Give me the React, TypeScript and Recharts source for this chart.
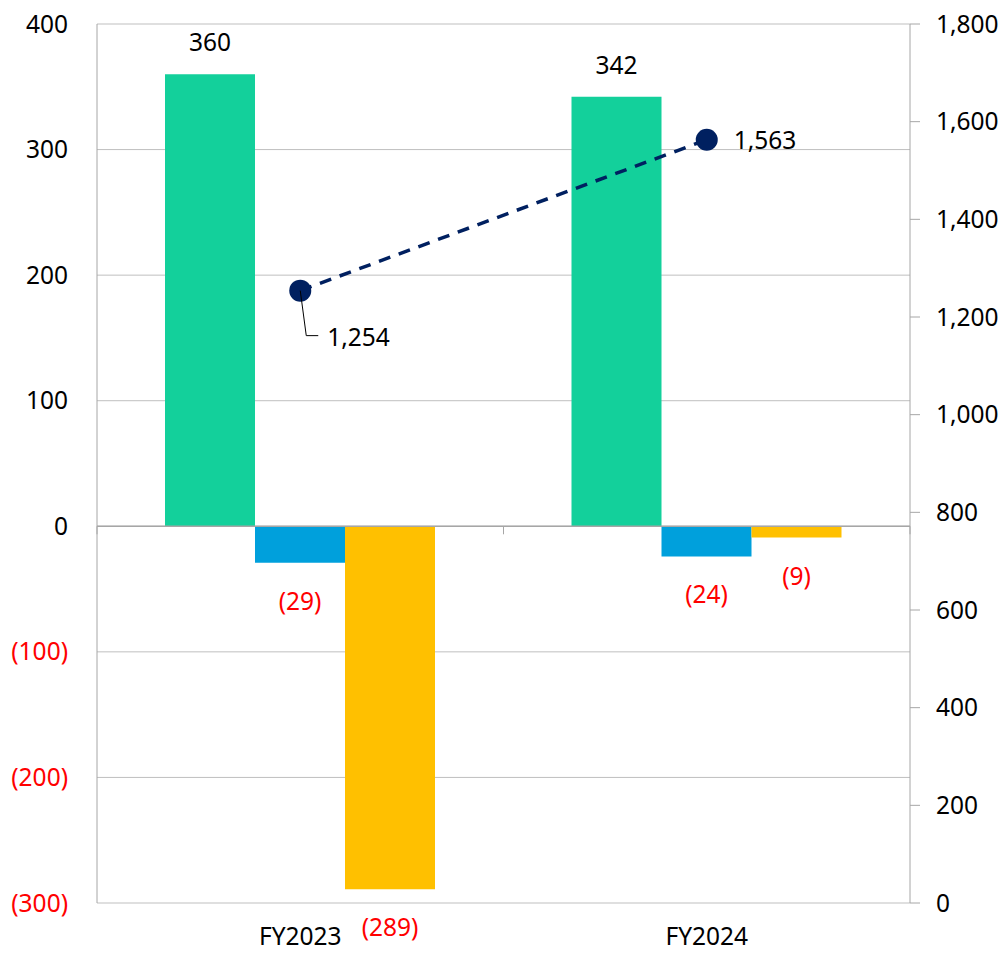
import React from 'react';
import {
  ComposedChart,
  Bar,
  Line,
  XAxis,
  YAxis,
  CartesianGrid,
  ReferenceLine,
  LabelList,
} from 'recharts';

const categories = ['FY2023', 'FY2024'];
const greenValues = [360, 342];
const blueValues = [-29, -24];
const yellowValues = [-289, -9];
const lineValues = [1254, 1563];
const leftTicks = [-300, -200, -100, 0, 100, 200, 300, 400];
const rightTicks = [0, 200, 400, 600, 800, 1000, 1200, 1400, 1600, 1800];

const data = categories.map((name, i) => ({
  name,
  green: greenValues[i],
  blue: blueValues[i],
  yellow: yellowValues[i],
  total: lineValues[i],
}));

const FONT = '"Noto Sans", "Open Sans", sans-serif';
const FS = 24.5;
const GRID = '#bfbfbf';
const AXIS = '#a6a6a6';

const fmtParen = (v: number) => (v < 0 ? `(${Math.abs(v)})` : `${v}`);
const fmtComma = (v: number) => v.toLocaleString('en-US');

const LeftTick = (props: any) => {
  const { x, y, payload } = props;
  const v = payload.value as number;
  return (
    <text x={x} y={y} dy="0.35em" textAnchor="end" fontSize={FS} fontFamily={FONT} fill={v < 0 ? '#ff0000' : '#000'}>
      {fmtParen(v)}
    </text>
  );
};

const RightTick = (props: any) => {
  const { x, y, payload } = props;
  return (
    <text x={x} y={y} dy="0.35em" textAnchor="start" fontSize={FS} fontFamily={FONT} fill="#000">
      {fmtComma(payload.value)}
    </text>
  );
};

const CatTick = (props: any) => {
  const { x, y, payload } = props;
  return (
    <text x={x} y={y} dy="0.35em" textAnchor="middle" fontSize={FS} fontFamily={FONT} fill="#000">
      {payload.value}
    </text>
  );
};

const BarLabel = (props: any) => {
  const { x, y, width, height, value } = props;
  const top = Math.min(y, y + height);
  const bottom = Math.max(y, y + height);
  const cx = x + width / 2;
  if (value >= 0) {
    return (
      <text x={cx} y={top - 23} textAnchor="middle" fontSize={FS} fontFamily={FONT} fill="#000">
        {fmtParen(value)}
      </text>
    );
  }
  return (
    <text x={cx} y={bottom + 47} textAnchor="middle" fontSize={FS} fontFamily={FONT} fill="#ff0000">
      {fmtParen(value)}
    </text>
  );
};

const LineLabel = (props: any) => {
  const { x, y, value, index } = props;
  if (index === 0) {
    // label moved below-right with a leader line
    return (
      <g>
        <polyline points={`${x},${y} ${x + 6},${y + 45} ${x + 18},${y + 45}`} fill="none" stroke="#000" strokeWidth={1} />
        <text x={x + 27} y={y + 47} dy="0.35em" textAnchor="start" fontSize={FS} fontFamily={FONT} fill="#000">
          {fmtComma(value)}
        </text>
      </g>
    );
  }
  return (
    <text x={x + 27} y={y + 1} dy="0.35em" textAnchor="start" fontSize={FS} fontFamily={FONT} fill="#000">
      {fmtComma(value)}
    </text>
  );
};

// small tick marks on the zero line at the category boundaries
const ZeroTicks = (props: any) => {
  const { viewBox } = props;
  if (!viewBox) return null;
  const { x, y, width } = viewBox;
  const xs = [x, x + width / 2, x + width];
  return (
    <g>
      {xs.map((tx, i) => (
        <line key={i} x1={tx} y1={y} x2={tx} y2={y + 8} stroke={AXIS} strokeWidth={1} />
      ))}
    </g>
  );
};

const App: React.FC = () => {
  return (
    <div style={{ position: 'absolute', left: 0, top: 0, width: 1003, height: 953, background: '#fff' }}>
      <ComposedChart
        width={1003}
        height={953}
        data={data}
        margin={{ top: 24, right: 0, bottom: 0, left: 0 }}
        barGap={0}
      >
        <CartesianGrid yAxisId="left" vertical={false} stroke={GRID} strokeWidth={1} />
        <XAxis
          dataKey="name"
          height={50}
          axisLine={false}
          tickLine={false}
          tickMargin={0}
          tickSize={0}
          tick={(p: any) => <CatTick {...p} y={936} />}
        />
        <YAxis
          yAxisId="left"
          orientation="left"
          width={97}
          domain={[-300, 400]}
          ticks={leftTicks}
          interval={0}
          axisLine={{ stroke: AXIS }}
          tickLine={false}
          tick={(p: any) => <LeftTick {...p} x={68} />}
        />
        <YAxis
          yAxisId="right"
          orientation="right"
          width={93}
          domain={[0, 1800]}
          ticks={rightTicks}
          interval={0}
          axisLine={{ stroke: AXIS }}
          tickLine={{ stroke: AXIS }}
          tickSize={10}
          tick={(p: any) => <RightTick {...p} x={936} />}
        />
        <ReferenceLine yAxisId="left" y={0} stroke={AXIS} strokeWidth={1.5} label={<ZeroTicks />} />
        <Bar yAxisId="left" dataKey="green" fill="#13d09b" barSize={90} isAnimationActive={false}>
          <LabelList dataKey="green" content={<BarLabel />} />
        </Bar>
        <Bar yAxisId="left" dataKey="blue" fill="#00a0dc" barSize={90} isAnimationActive={false}>
          <LabelList dataKey="blue" content={<BarLabel />} />
        </Bar>
        <Bar yAxisId="left" dataKey="yellow" fill="#ffc000" barSize={90} isAnimationActive={false}>
          <LabelList dataKey="yellow" content={<BarLabel />} />
        </Bar>
        <Line
          yAxisId="right"
          dataKey="total"
          stroke="#002060"
          strokeWidth={3.5}
          strokeDasharray="12 9"
          dot={{ r: 11, fill: '#002060', stroke: '#002060', strokeWidth: 0, strokeDasharray: '' }}
          activeDot={false}
          isAnimationActive={false}
        >
          <LabelList dataKey="total" content={<LineLabel />} />
        </Line>
      </ComposedChart>
    </div>
  );
};

export default App;
